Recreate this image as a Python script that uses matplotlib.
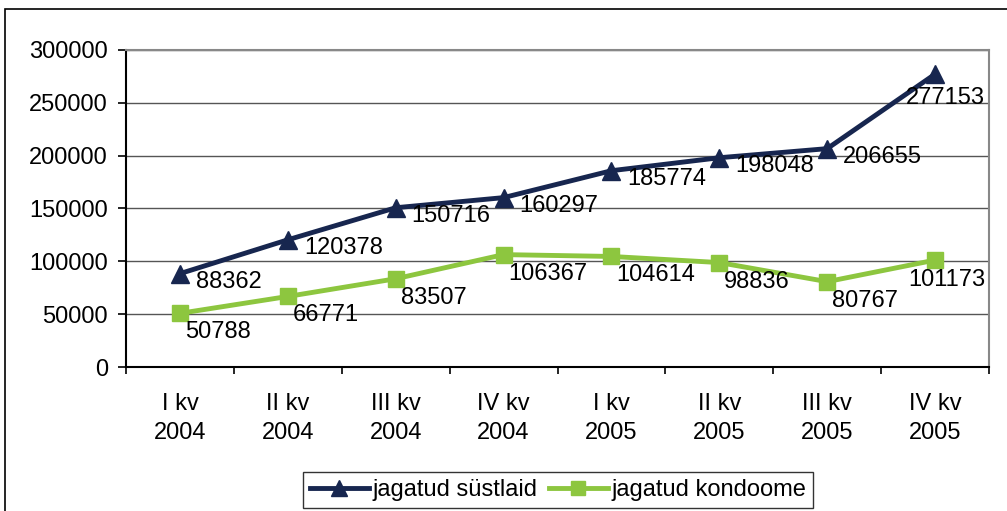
import matplotlib.pyplot as plt
from matplotlib.patches import Rectangle

plt.rcParams['font.family'] = ['Liberation Sans', 'DejaVu Sans']

categories = ["I kv\n2004", "II kv\n2004", "III kv\n2004", "IV kv\n2004",
              "I kv\n2005", "II kv\n2005", "III kv\n2005", "IV kv\n2005"]
syringes = [88362, 120378, 150716, 160297, 185774, 198048, 206655, 277153]
condoms = [50788, 66771, 83507, 106367, 104614, 98836, 80767, 101173]

navy = "#17264f"
green = "#8dc63f"
fs = 17

fig = plt.figure(figsize=(10.07, 5.11), dpi=100)
ax = fig.add_axes([126 / 1007, 1 - 367 / 511, (989 - 126) / 1007, (367 - 50) / 511])

x = list(range(len(categories)))
ax.plot(x, syringes, color=navy, lw=3.5, marker="^", ms=13, label="jagatud süstlaid", zorder=3)
ax.plot(x, condoms, color=green, lw=3.5, marker="s", ms=12, label="jagatud kondoome", zorder=3)


def put_labels(vals, dx, dy, last_dy):
	n = len(vals)
	for xi, v in zip(x, vals):
		if xi == n - 1:
			# last label is pushed back inside the plot area
			ax.annotate(str(v), (1, v), xycoords=("axes fraction", "data"),
			            xytext=(-4, -last_dy), textcoords="offset pixels",
			            ha="right", va="center", fontsize=fs)
		else:
			ax.annotate(str(v), (xi, v), xytext=(dx, -dy), textcoords="offset pixels",
			            ha="left", va="center", fontsize=fs)


put_labels(syringes, 16, 8, 24)
put_labels(condoms, 5, 19, 20)

ax.set_xlim(-0.5, len(categories) - 0.5)
ax.set_ylim(0, 300000)
ax.set_yticks(range(0, 300001, 50000))
ax.set_yticklabels([str(t) for t in range(0, 300001, 50000)], fontsize=fs)
ax.set_xticks([i + 0.5 for i in range(-1, len(categories))])
ax.set_xticklabels([])
ax.set_xticks(x, minor=True)
ax.set_xticklabels(categories, minor=True, fontsize=fs, linespacing=1.38)
ax.tick_params(axis="x", which="minor", length=0, pad=19)
ax.tick_params(axis="x", which="major", length=5, direction="out", width=1.2)
ax.tick_params(axis="y", length=6, direction="out", width=1.2, pad=7)

ax.grid(axis="y", color="#555555", lw=1)
ax.set_axisbelow(True)
for s in ["top", "right"]:
	ax.spines[s].set_color("#888888")
	ax.spines[s].set_linewidth(1.5)
for s in ["left", "bottom"]:
	ax.spines[s].set_color("black")
	ax.spines[s].set_linewidth(1.5)

leg = fig.legend(loc="center", bbox_to_anchor=(558 / 1007, 1 - 490 / 511), ncol=2,
                 fontsize=fs, frameon=True, fancybox=False, handlelength=2.5,
                 handletextpad=0.15, columnspacing=0.5, borderpad=0.3,
                 borderaxespad=0, markerscale=0.85)
leg.get_frame().set_edgecolor("black")
leg.get_frame().set_linewidth(1)

fig.patches.append(Rectangle((5 / 1007, -0.05), 1.1, 1.05 - 9 / 511,
                             transform=fig.transFigure, fill=False,
                             edgecolor="black", lw=1.2))

fig.savefig("out.png", dpi=100)
